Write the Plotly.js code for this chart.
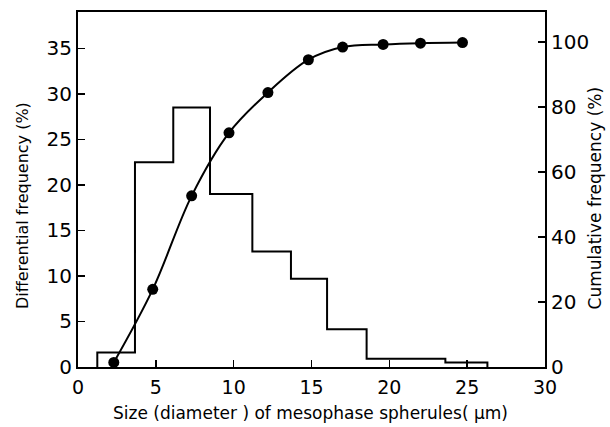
<!DOCTYPE html>
<html>
<head>
<meta charset="utf-8">
<script src="https://cdn.plot.ly/plotly-3.0.1.min.js"></script>
<style>html,body{margin:0;padding:0;background:#fff;}#chart{width:610px;height:427px;}</style>
</head>
<body>
<div id="chart"></div>
<script>
// Histogram: bin edges (µm) and differential frequency (%)
const binEdges = [1.24, 3.66, 6.12, 8.48, 11.2, 13.68, 16.0, 18.54, 21.0, 23.6, 26.3];
const diffFreq = [1.6, 22.5, 28.5, 19.0, 12.7, 9.7, 4.15, 0.9, 0.9, 0.5];
// Cumulative frequency points
const cumSize = [2.3, 4.8, 7.3, 9.7, 12.2, 14.8, 17.0, 19.6, 22.0, 24.7];
const cumFreq = [1.4, 23.9, 52.7, 72.1, 84.5, 94.6, 98.5, 99.3, 99.7, 99.9];
const xTicks = [0, 5, 10, 15, 20, 25, 30];
const yLeftTicks = [0, 5, 10, 15, 20, 25, 30, 35];
const yRightTicks = [0, 20, 40, 60, 80, 100];
const xTitle = 'Size (diameter ) of mesophase spherules( μm)';
const yLeftTitle = 'Differential frequency (%)';
const yRightTitle = 'Cumulative frequency (%)';

const stepX = [binEdges[0]].concat(binEdges);
const stepY = [0].concat(diffFreq).concat([0]);

const fam = 'DejaVu Sans, sans-serif';
const f = (s) => ({family: fam, color: '#000', size: s});

const traces = [
  {x: stepX, y: stepY, type: 'scatter', mode: 'lines', line: {shape: 'hv', color: '#000', width: 2}, hoverinfo: 'none'},
  {x: cumSize, y: cumFreq, yaxis: 'y2', type: 'scatter', mode: 'lines+markers',
   line: {shape: 'spline', smoothing: 1, color: '#000', width: 2},
   marker: {size: 11, color: '#000'}, hoverinfo: 'none'}
];

const axCommon = {
  ticks: 'inside', ticklen: 7, tickwidth: 1.5, tickcolor: '#000',
  showline: true, linewidth: 2, linecolor: '#000',
  showgrid: false, zeroline: false, tickfont: f(20)
};

const layout = {
  width: 610, height: 427,
  margin: {l: 78, r: 65, t: 12, b: 60},
  paper_bgcolor: '#fff', plot_bgcolor: '#fff',
  showlegend: false,
  font: f(17),
  xaxis: Object.assign({}, axCommon, {
    range: [0, 30], tickvals: xTicks, ticktext: xTicks.map(String), mirror: true,
    ticklabelstandoff: 2, tickfont: f(19)
  }),
  yaxis: Object.assign({}, axCommon, {
    range: [0, 39], tickvals: yLeftTicks, ticktext: yLeftTicks.map(String)
  }),
  yaxis2: Object.assign({}, axCommon, {
    overlaying: 'y', side: 'right',
    range: [0, 109.3], tickvals: yRightTicks, ticktext: yRightTicks.map(String)
  }),
  annotations: [
    {text: xTitle, xref: 'paper', yref: 'paper', x: 0.497, y: -0.13, showarrow: false, font: f(17), xanchor: 'center', yanchor: 'middle'},
    {text: yLeftTitle, xref: 'paper', yref: 'paper', x: -0.12, y: 0.456, showarrow: false, font: f(16), textangle: -90, xanchor: 'center', yanchor: 'middle'},
    {text: yRightTitle, xref: 'paper', yref: 'paper', x: 1.108, y: 0.476, showarrow: false, font: f(17), textangle: -90, xanchor: 'center', yanchor: 'middle'}
  ]
};

Plotly.newPlot('chart', traces, layout, {displayModeBar: false, staticPlot: true});
</script>
</body>
</html>
